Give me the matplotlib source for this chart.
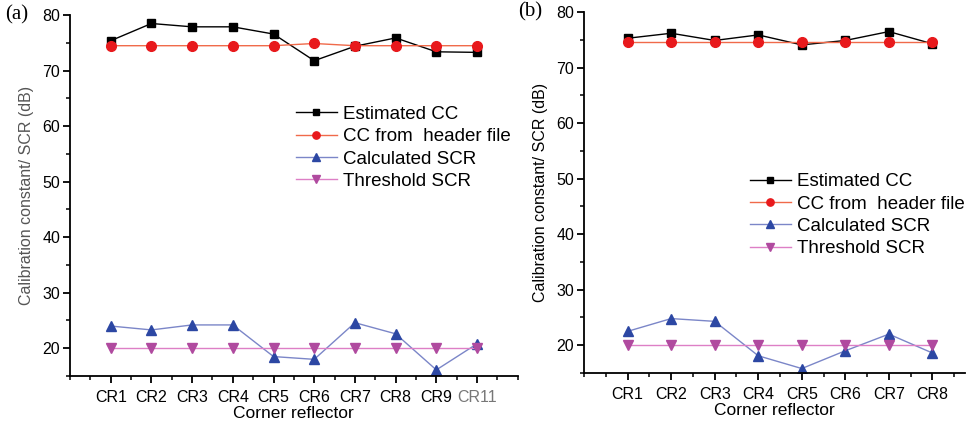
import numpy as np
import matplotlib.pyplot as plt
from matplotlib.ticker import MultipleLocator

plt.rcParams['font.family'] = ['Liberation Sans', 'DejaVu Sans']

# Panel (a) data
labels_a = ['CR1', 'CR2', 'CR3', 'CR4', 'CR5', 'CR6', 'CR7', 'CR8', 'CR9', 'CR11']
est_cc_a = [75.4, 78.5, 77.9, 77.9, 76.6, 71.8, 74.4, 75.9, 73.4, 73.3]
hdr_cc_a = [74.5, 74.5, 74.5, 74.5, 74.5, 74.9, 74.5, 74.5, 74.5, 74.5]
calc_scr_a = [24.0, 23.3, 24.2, 24.2, 18.5, 18.0, 24.6, 22.6, 16.1, 20.8]
thr_scr_a = [20, 20, 20, 20, 20, 20, 20, 20, 20, 20]

# Panel (b) data
labels_b = ['CR1', 'CR2', 'CR3', 'CR4', 'CR5', 'CR6', 'CR7', 'CR8']
est_cc_b = [75.3, 76.2, 74.9, 75.9, 74.1, 74.9, 76.5, 74.3]
hdr_cc_b = [74.6, 74.6, 74.6, 74.6, 74.6, 74.6, 74.6, 74.6]
calc_scr_b = [22.5, 24.8, 24.3, 18.1, 15.8, 19.0, 22.0, 18.6]
thr_scr_b = [20, 20, 20, 20, 20, 20, 20, 20]

series_names = ['Estimated CC', 'CC from  header file', 'Calculated SCR', 'Threshold SCR']


def draw_panel(ax, labels, est, hdr, calc, thr, xmax, tag, tag_x, ylab_color):
    x = np.arange(1, len(labels) + 1)
    ax.plot(x, est, color='black', lw=1.0, marker='s', ms=6,
            mfc='black', mec='black', label=series_names[0])
    ax.plot(x, hdr, color='#f06a4a', lw=1.0, marker='o', ms=7,
            mfc='#e8191c', mec='#e8191c', label=series_names[1])
    ax.plot(x, calc, color='#7b86c8', lw=1.0, marker='^', ms=7.5,
            mfc='#2c47a3', mec='#2c47a3', label=series_names[2])
    ax.plot(x, thr, color='#dd7fc6', lw=1.0, marker='v', ms=7.5,
            mfc='#b04a9f', mec='#b04a9f', label=series_names[3])

    ax.set_xlim(0, xmax)
    ax.set_ylim(15, 80)
    ax.set_xticks(x)
    ax.set_xticklabels(labels)
    ax.xaxis.set_minor_locator(MultipleLocator(0.5))
    ax.yaxis.set_minor_locator(MultipleLocator(5))
    ax.set_yticks([20, 30, 40, 50, 60, 70, 80])

    for s in ['top', 'right']:
        ax.spines[s].set_visible(False)
    for s in ['left', 'bottom']:
        ax.spines[s].set_linewidth(1.3)
    ax.tick_params(which='major', direction='out', length=5, width=1.3,
                   labelsize=11.5, pad=2)
    ax.tick_params(which='minor', direction='out', length=3, width=1.1)
    ax.tick_params(axis='x', pad=5)

    ax.set_xlabel('Corner reflector', fontsize=12.5, labelpad=1)
    ax.set_ylabel('Calibration constant/ SCR (dB)', fontsize=11.5,
                  color=ylab_color, labelpad=6)
    ax.text(tag_x, 1.0, tag, transform=ax.transAxes,
            fontsize=15, family='Liberation Serif', va='center', ha='left')

    ax.legend(frameon=False, fontsize=13.5, handlelength=2.2, handletextpad=0.3,
              labelspacing=0.28, borderpad=0, markerscale=0.75, loc='upper left')
    return ax


fig = plt.figure(figsize=(9.67, 4.25), dpi=100)
ax1 = fig.add_axes([0.0724, 0.1153, 0.463, 0.849])
ax2 = fig.add_axes([0.604, 0.1224, 0.394, 0.849])

draw_panel(ax1, labels_a, est_cc_a, hdr_cc_a, calc_scr_a, thr_scr_a, 11, '(a)', -0.145, '#555555')
draw_panel(ax2, labels_b, est_cc_b, hdr_cc_b, calc_scr_b, thr_scr_b, 8.75, '(b)', -0.172, 'black')

ax1.get_xticklabels()[-1].set_color('#777777')

ax1.get_legend().set_bbox_to_anchor((0.483, 0.775), transform=ax1.transAxes)
ax2.get_legend().set_bbox_to_anchor((0.41, 0.58), transform=ax2.transAxes)

fig.savefig('out.png', dpi=100)
